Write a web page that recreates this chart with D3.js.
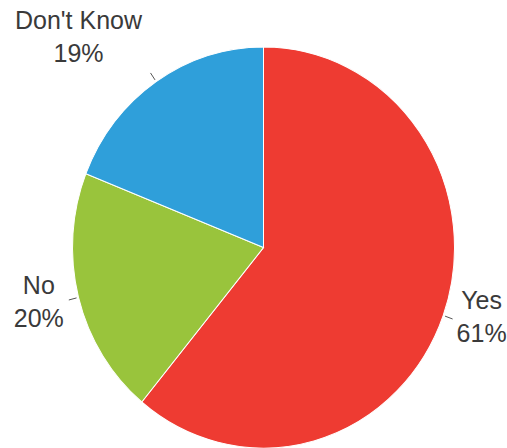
<!DOCTYPE html>
<html>
<head>
<meta charset="utf-8">
<script src="https://cdn.jsdelivr.net/npm/d3@7"></script>
<style>
  html, body { margin: 0; padding: 0; background: #fff; }
  svg { display: block; }
</style>
</head>
<body>
<svg id="chart" width="507" height="448"></svg>
<script>
// Survey answers
const categories = ["Yes", "No", "Don't Know"];
const shares = [61, 20, 19];
const colors = ["#ee3b32", "#99c43c", "#2f9fda"];

const W = 507, H = 448;
const cx = 263.5, cy = 247.5;
const radius = 191;
const stretchY = 1.05;       // pie is drawn slightly taller than wide
const tickIn = 193, tickOut = 201;

// Label placement relative to each tick's outer end (x offset of text centre, baseline of first line)
const labelOffset = {
  "Yes": [29, -10],
  "No": [-30, -6],
  "Don't Know": [-72, -44]
};

const svg = d3.select("#chart");
const data = categories.map((c, i) => ({ cat: c, value: shares[i], color: colors[i] }));

const pie = d3.pie().sort(null).value(d => d.value);
const arcs = pie(data);
const arc = d3.arc().innerRadius(0).outerRadius(radius);

const g = svg.append("g")
  .attr("transform", `translate(${cx},${cy}) scale(1,${stretchY})`);

g.selectAll("path.slice")
  .data(arcs)
  .join("path")
  .attr("class", "slice")
  .attr("d", arc)
  .attr("fill", d => d.data.color)
  .attr("stroke", "#ffffff")
  .attr("stroke-width", 1);

// Point on the (stretched) pie at a given angle and radius, in page coordinates
function polar(a, r) {
  return [cx + Math.sin(a) * r, cy - Math.cos(a) * r * stretchY];
}

const labels = svg.append("g");
arcs.forEach(d => {
  const mid = (d.startAngle + d.endAngle) / 2;
  const p0 = polar(mid, tickIn), p1 = polar(mid, tickOut);
  labels.append("line")
    .attr("x1", p0[0]).attr("y1", p0[1])
    .attr("x2", p1[0]).attr("y2", p1[1])
    .attr("stroke", "#555")
    .attr("stroke-width", 1);
  const off = labelOffset[d.data.cat];
  const t = labels.append("text")
    .attr("x", p1[0] + off[0])
    .attr("y", p1[1] + off[1])
    .attr("text-anchor", "middle")
    .attr("font-family", "Liberation Sans, Arial, sans-serif")
    .attr("font-size", 25)
    .attr("fill", "#3a3a3a");
  t.append("tspan").attr("x", p1[0] + off[0]).text(d.data.cat);
  t.append("tspan").attr("x", p1[0] + off[0]).attr("dy", 33).text(d.data.value + "%");
});
</script>
</body>
</html>
